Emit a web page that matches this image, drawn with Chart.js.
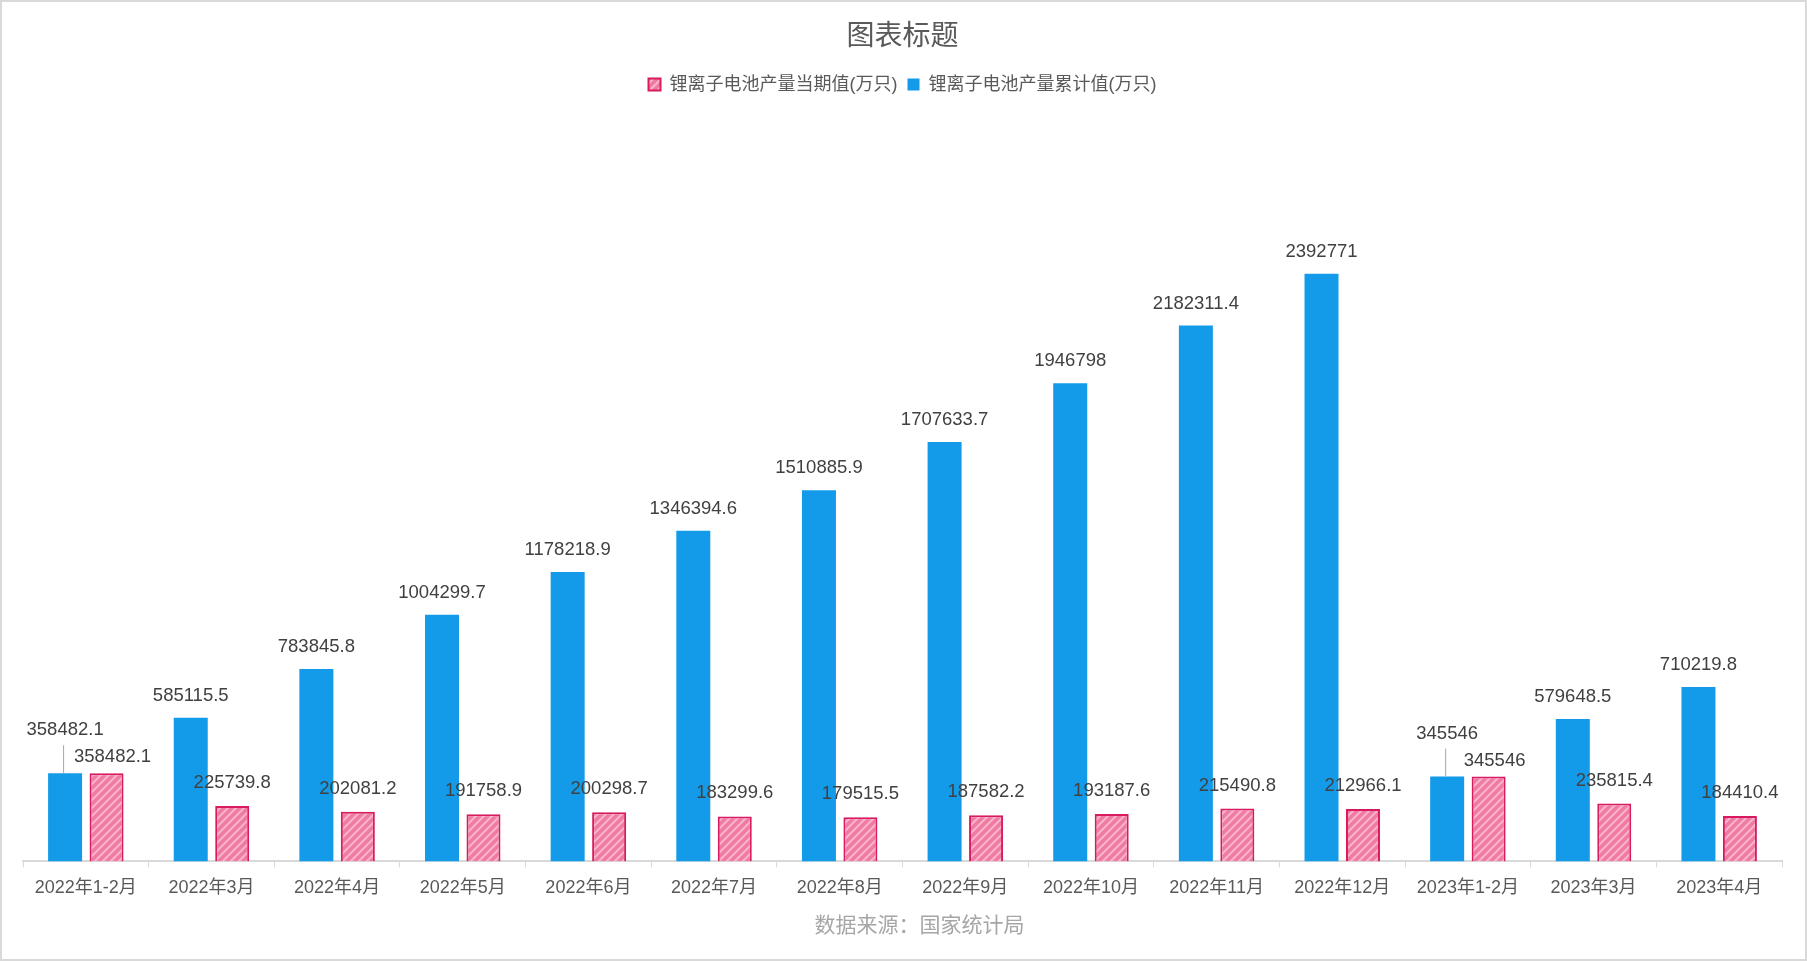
<!DOCTYPE html>
<html>
<head>
<meta charset="utf-8">
<script src="https://cdn.jsdelivr.net/npm/chart.js@4/dist/chart.umd.min.js"></script>
<style>
  html, body { margin: 0; padding: 0; background: #fff; }
  #wrap { width: 1807px; height: 961px; box-sizing: border-box; border: 2px solid #d9d9d9; }
</style>
</head>
<body>
<div id="wrap"><canvas id="chanliang"></canvas></div>
<script>
// 数据
var categories = ["2022年1-2月", "2022年3月", "2022年4月", "2022年5月", "2022年6月", "2022年7月", "2022年8月",
    "2022年9月", "2022年10月", "2022年11月", "2022年12月", "2023年1-2月", "2023年3月", "2023年4月"];
var leiji = [358482.1, 585115.5, 783845.8, 1004299.7, 1178218.9, 1346394.6, 1510885.9,
    1707633.7, 1946798, 2182311.4, 2392771, 345546, 579648.5, 710219.8];
var dangqi = [358482.1, 225739.8, 202081.2, 191758.9, 200298.7, 183299.6, 179515.5,
    187582.2, 193187.6, 215490.8, 212966.1, 345546, 235815.4, 184410.4];
var laiyuan = "数据来源：国家统计局";

var fontFamily = "'Liberation Sans', 'Noto Sans CJK SC', sans-serif";

// 斜线填充
function hatch() {
    var c = document.createElement("canvas");
    c.width = 8; c.height = 8;
    var g = c.getContext("2d");
    g.fillStyle = "#f07ba2";
    g.fillRect(0, 0, 8, 8);
    g.strokeStyle = "#f9b3cb";
    g.lineWidth = 2;
    g.beginPath();
    g.moveTo(-2, 10); g.lineTo(10, -2);
    g.moveTo(-2, 2); g.lineTo(2, -2);
    g.moveTo(6, 10); g.lineTo(10, 6);
    g.stroke();
    return g.createPattern(c, "repeat");
}

// 图例与绘图区之间留空
var legendGap = {
    id: "legendGap",
    beforeInit: function(chart) {
        var fit = chart.legend.fit;
        chart.legend.fit = function() {
            fit.bind(chart.legend)();
            this.height += 21;
        };
    }
};

// 数据标签 + 数据来源
var labelPlugin = {
    id: "barLabels",
    afterDatasetsDraw: function(chart) {
        var ctx = chart.ctx;
        var blue = chart.getDatasetMeta(0).data;
        var pink = chart.getDatasetMeta(1).data;
        ctx.save();
        ctx.font = "18.5px " + fontFamily;
        ctx.fillStyle = "#404040";
        ctx.textAlign = "center";
        ctx.textBaseline = "middle";
        for (var i = 0; i < blue.length; i++) {
            var b = blue[i], p = pink[i];
            var close = Math.abs(b.y - p.y) < 30;
            if (close) {
                // 标签重叠时上移并画引导线
                ctx.fillText(String(leiji[i]), b.x, b.y - 43);
                ctx.strokeStyle = "#a6a6a6";
                ctx.lineWidth = 1;
                ctx.beginPath();
                ctx.moveTo(b.x - 1.5, b.y - 28);
                ctx.lineTo(b.x - 1.5, b.y);
                ctx.stroke();
                ctx.fillText(String(dangqi[i]), p.x + 6, p.y - 16);
            } else {
                ctx.fillText(String(leiji[i]), b.x, b.y - 22);
                ctx.fillText(String(dangqi[i]), p.x, p.y - 23);
            }
        }
        ctx.font = "21px " + fontFamily;
        ctx.fillStyle = "#a6a6a6";
        ctx.fillText(laiyuan, chart.width / 2 + 16, chart.height - 33);
        ctx.restore();
    }
};

var chart = new Chart(document.querySelector("#chanliang"), {
    type: "bar",
    data: {
        labels: categories,
        datasets: [{
            label: "锂离子电池产量累计值(万只)",
            data: leiji,
            backgroundColor: "#139be9",
            borderWidth: 0,
            categoryPercentage: 0.66,
            barPercentage: 0.82
        }, {
            label: "锂离子电池产量当期值(万只)",
            data: dangqi,
            backgroundColor: hatch(),
            borderColor: "#d81b60",
            borderWidth: 2,
            categoryPercentage: 0.66,
            barPercentage: 0.82
        }]
    },
    options: {
        responsive: true,
        maintainAspectRatio: false,
        animation: false,
        layout: { padding: { left: 21, right: 23, top: 0, bottom: 50 } },
        plugins: {
            title: {
                display: true,
                text: "图表标题",
                color: "#595959",
                font: { family: fontFamily, size: 28, weight: "normal" },
                padding: { top: 18, bottom: 12 }
            },
            legend: {
                reverse: true,
                labels: {
                    boxWidth: 12,
                    boxHeight: 12,
                    padding: 10,
                    color: "#595959",
                    font: { family: fontFamily, size: 18 }
                }
            },
            tooltip: { enabled: false }
        },
        scales: {
            x: {
                grid: { display: true, drawOnChartArea: false, color: "#d9d9d9", tickLength: 6 },
                border: { color: "#d9d9d9", width: 2 },
                ticks: { color: "#595959", font: { family: fontFamily, size: 18 }, padding: 10, maxRotation: 0 }
            },
            y: {
                display: false,
                min: 0,
                max: 3000000
            }
        }
    },
    plugins: [legendGap, labelPlugin]
});
</script>
</body>
</html>
